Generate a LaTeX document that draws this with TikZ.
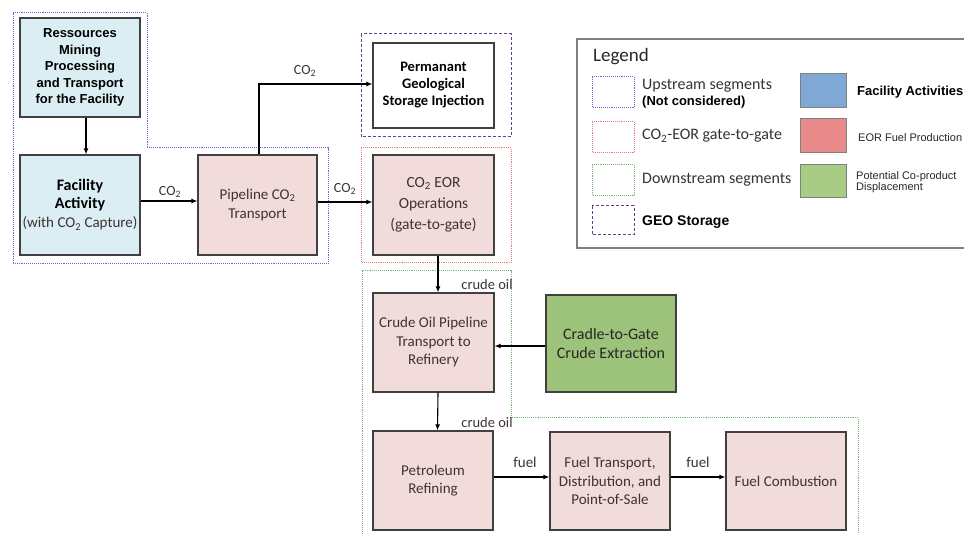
\documentclass[tikz,border=0pt]{standalone}
\usepackage{fontspec}
\setmainfont{Carlito}
\newfontfamily\arialf{Liberation Sans}
\usetikzlibrary{arrows.meta}
\definecolor{boxline}{HTML}{404040}
\definecolor{bluefill}{HTML}{DAEEF3}
\definecolor{pinkfill}{HTML}{F2DCDB}
\definecolor{greenfill}{HTML}{9DC27A}
\definecolor{pinktext}{HTML}{3F3232}
\definecolor{upblue}{HTML}{6E66E0}
\definecolor{eorred}{HTML}{E87A7A}
\definecolor{downgreen}{HTML}{72B872}
\definecolor{geopurple}{HTML}{6A3D8A}
\definecolor{legblue}{HTML}{7FA8D4}
\definecolor{legred}{HTML}{E98A8A}
\definecolor{leggreen}{HTML}{A9CC85}
\newcommand{\cotwo}{CO\textsubscript{2}}
\tikzset{
  procbox/.style={draw=boxline, line width=1.2pt, align=center, inner sep=0pt},
  bluebox/.style={procbox, fill=bluefill, text=black},
  pinkbox/.style={procbox, fill=pinkfill, text=pinktext, font=\fontsize{15}{18.5}\selectfont},
  arr/.style={line width=1.1pt, -{Latex[length=6pt,width=5pt]}},
  flowlabel/.style={inner sep=0pt, text=pinktext},
  upline/.style={draw=upblue, line width=1pt, dash pattern=on 1.1pt off 1pt},
  eorline/.style={draw=eorred, line width=1pt, dash pattern=on 1.1pt off 1pt},
  downline/.style={draw=downgreen, line width=1pt, dash pattern=on 1.1pt off 1pt},
  geoline/.style={draw=geopurple, line width=1pt, dash pattern=on 3pt off 2pt},
  legtext/.style={anchor=west, inner sep=0pt, text=black!80, font=\fontsize{16}{17}\selectfont},
  swatch/.style={draw=gray, line width=1pt, inner sep=0pt, minimum width=46pt, minimum height=34pt}
}
\begin{document}
\begin{tikzpicture}[x=1pt,y=-1pt]
\useasboundingbox (0,0) rectangle (964,534);
\clip (0,0) rectangle (964,534);

% segment boundaries
\draw[upline] (13,13) -- (147,13) -- (147,148) -- (328,148) -- (328,264) -- (13,264) -- cycle;
\draw[geoline] (361,34) rectangle (511,137);
\draw[eorline] (361,148) rectangle (511,263);
\draw[downline] (362,545) -- (362,271) -- (511,271) -- (511,418) -- (858,418) -- (858,545);

% process boxes
\node[bluebox, minimum width=120pt, minimum height=99pt, font=\arialf\bfseries\fontsize{13}{16.5}\selectfont]
  (res) at (80,67.5) {Ressources\\Mining\\Processing\\and Transport\\for the Facility};
\node[bluebox, minimum width=120pt, minimum height=100pt, font=\bfseries\fontsize{16}{17.5}\selectfont]
  (fac) at (80,205) {Facility\\Activity\\[2pt]\mdseries\fontsize{15}{17}\selectfont\color{pinktext}(with \cotwo{} Capture)};
\node[pinkbox, minimum width=119pt, minimum height=100pt] (pipe) at (257.5,205) {Pipeline \cotwo\\Transport};
\node[procbox, fill=white, text=black, minimum width=121pt, minimum height=85pt, font=\bfseries\fontsize{14.5}{17}\selectfont]
  (perm) at (433.5,85.5) {Permanant\\Geological\\Storage Injection};
\node[pinkbox, minimum width=121pt, minimum height=100pt, font=\fontsize{15.5}{21}\selectfont]
  (eor) at (433.5,205) {\cotwo{} EOR\\Operations\\(gate-to-gate)};
\node[pinkbox, minimum width=121pt, minimum height=99pt] (crude) at (433.5,342.5) {Crude Oil Pipeline\\Transport to\\Refinery};
\node[procbox, fill=greenfill, text=black!85, minimum width=130pt, minimum height=97pt, font=\fontsize{16}{18.5}\selectfont]
  (cradle) at (611,343.5) {Cradle-to-Gate\\Crude Extraction};
\node[pinkbox, minimum width=120pt, minimum height=99pt] (petro) at (433,480.5) {Petroleum\\Refining};
\node[pinkbox, minimum width=120pt, minimum height=98pt] (fueltr) at (610,481) {Fuel Transport,\\Distribution, and\\Point-of-Sale};
\node[pinkbox, minimum width=120pt, minimum height=98pt] (comb) at (786,481) {Fuel Combustion};

% connectors
\draw[arr] ([xshift=6pt]res.south) -- ([xshift=6pt]fac.north);
\draw[arr] ([yshift=4pt]fac.east) -- ([yshift=4pt]pipe.west);
\draw[arr] ([xshift=1.5pt]pipe.north) |- ([yshift=1.5pt]perm.west);
\draw[arr] ([yshift=3pt]pipe.east) -- ([yshift=3pt]eor.west);
\draw[arr] ([xshift=4.5pt]eor.south) -- ([xshift=4.5pt]crude.north);
\draw[arr] ([yshift=-2.5pt]cradle.west) -- ([yshift=-2.5pt]cradle.west -| crude.east);
\draw[arr] ([xshift=4.5pt]crude.south) -- ([xshift=4.5pt]petro.north);
\draw[arr] ([yshift=3.5pt]petro.east) -- ([yshift=3.5pt]petro.east -| fueltr.west);
\draw[arr] ([yshift=4pt]fueltr.east) -- ([yshift=4pt]fueltr.east -| comb.west);

% flow labels
\node[flowlabel, font=\fontsize{14}{16}\selectfont] (lab1) at (170,192) {\cotwo};
\node[flowlabel, font=\fontsize{14}{16}\selectfont] (lab2) at (305,71) {\cotwo};
\node[flowlabel, font=\fontsize{14}{16}\selectfont] (lab3) at (345,189) {\cotwo};
\node[flowlabel, font=\fontsize{14.5}{16}\selectfont] (lab4) at (487,285) {crude oil};
\node[flowlabel, font=\fontsize{14.5}{16}\selectfont] (lab5) at (487,423) {crude oil};
\node[flowlabel, font=\fontsize{15}{16}\selectfont] (lab6) at (525,462) {fuel};
\node[flowlabel, font=\fontsize{15}{16}\selectfont] (lab7) at (698,462) {fuel};

% legend
\draw[draw=gray, line width=1.2pt] (577,39) rectangle (975,248);
\node[anchor=west, inner sep=0pt, text=black!85, font=\fontsize{19}{20}\selectfont] (legtitle) at (593,57) {Legend};
\draw[upline] (592,77) rectangle (634,108);
\draw[eorline] (592,122) rectangle (634,153);
\draw[downline] (592,165) rectangle (634,196);
\draw[geoline] (592,206) rectangle (634,235);
\node[legtext] (lt1) at (642,85.5) {Upstream segments};
\node[anchor=west, inner sep=0pt, font=\arialf\bfseries\fontsize{13}{14}\selectfont] (lt1b) at (642,102.5) {(Not considered)};
\node[legtext] (lt2) at (642,136) {\cotwo-EOR gate-to-gate};
\node[legtext] (lt3) at (642,180) {Downstream segments};
\node[anchor=west, inner sep=0pt, font=\arialf\bfseries\fontsize{14}{15}\selectfont] (lt4) at (642,222) {GEO Storage};
\node[swatch, fill=legblue] (sw1) at (823,91) {};
\node[swatch, fill=legred] (sw2) at (823,136) {};
\node[swatch, fill=leggreen, minimum height=33pt] (sw3) at (823,181.5) {};
\node[anchor=west, inner sep=0pt, font=\arialf\bfseries\fontsize{13}{14}\selectfont] (rt1) at (857,92) {Facility Activities};
\node[anchor=west, inner sep=0pt, text=black!85, font=\arialf\fontsize{11}{12}\selectfont] (rt2) at (858,138) {EOR Fuel Production};
\node[anchor=west, inner sep=0pt, text=black!85, align=left, font=\arialf\fontsize{11}{11.5}\selectfont] (rt3) at (856,182) {Potential Co-product\\Displacement};
\end{tikzpicture}
\end{document}
